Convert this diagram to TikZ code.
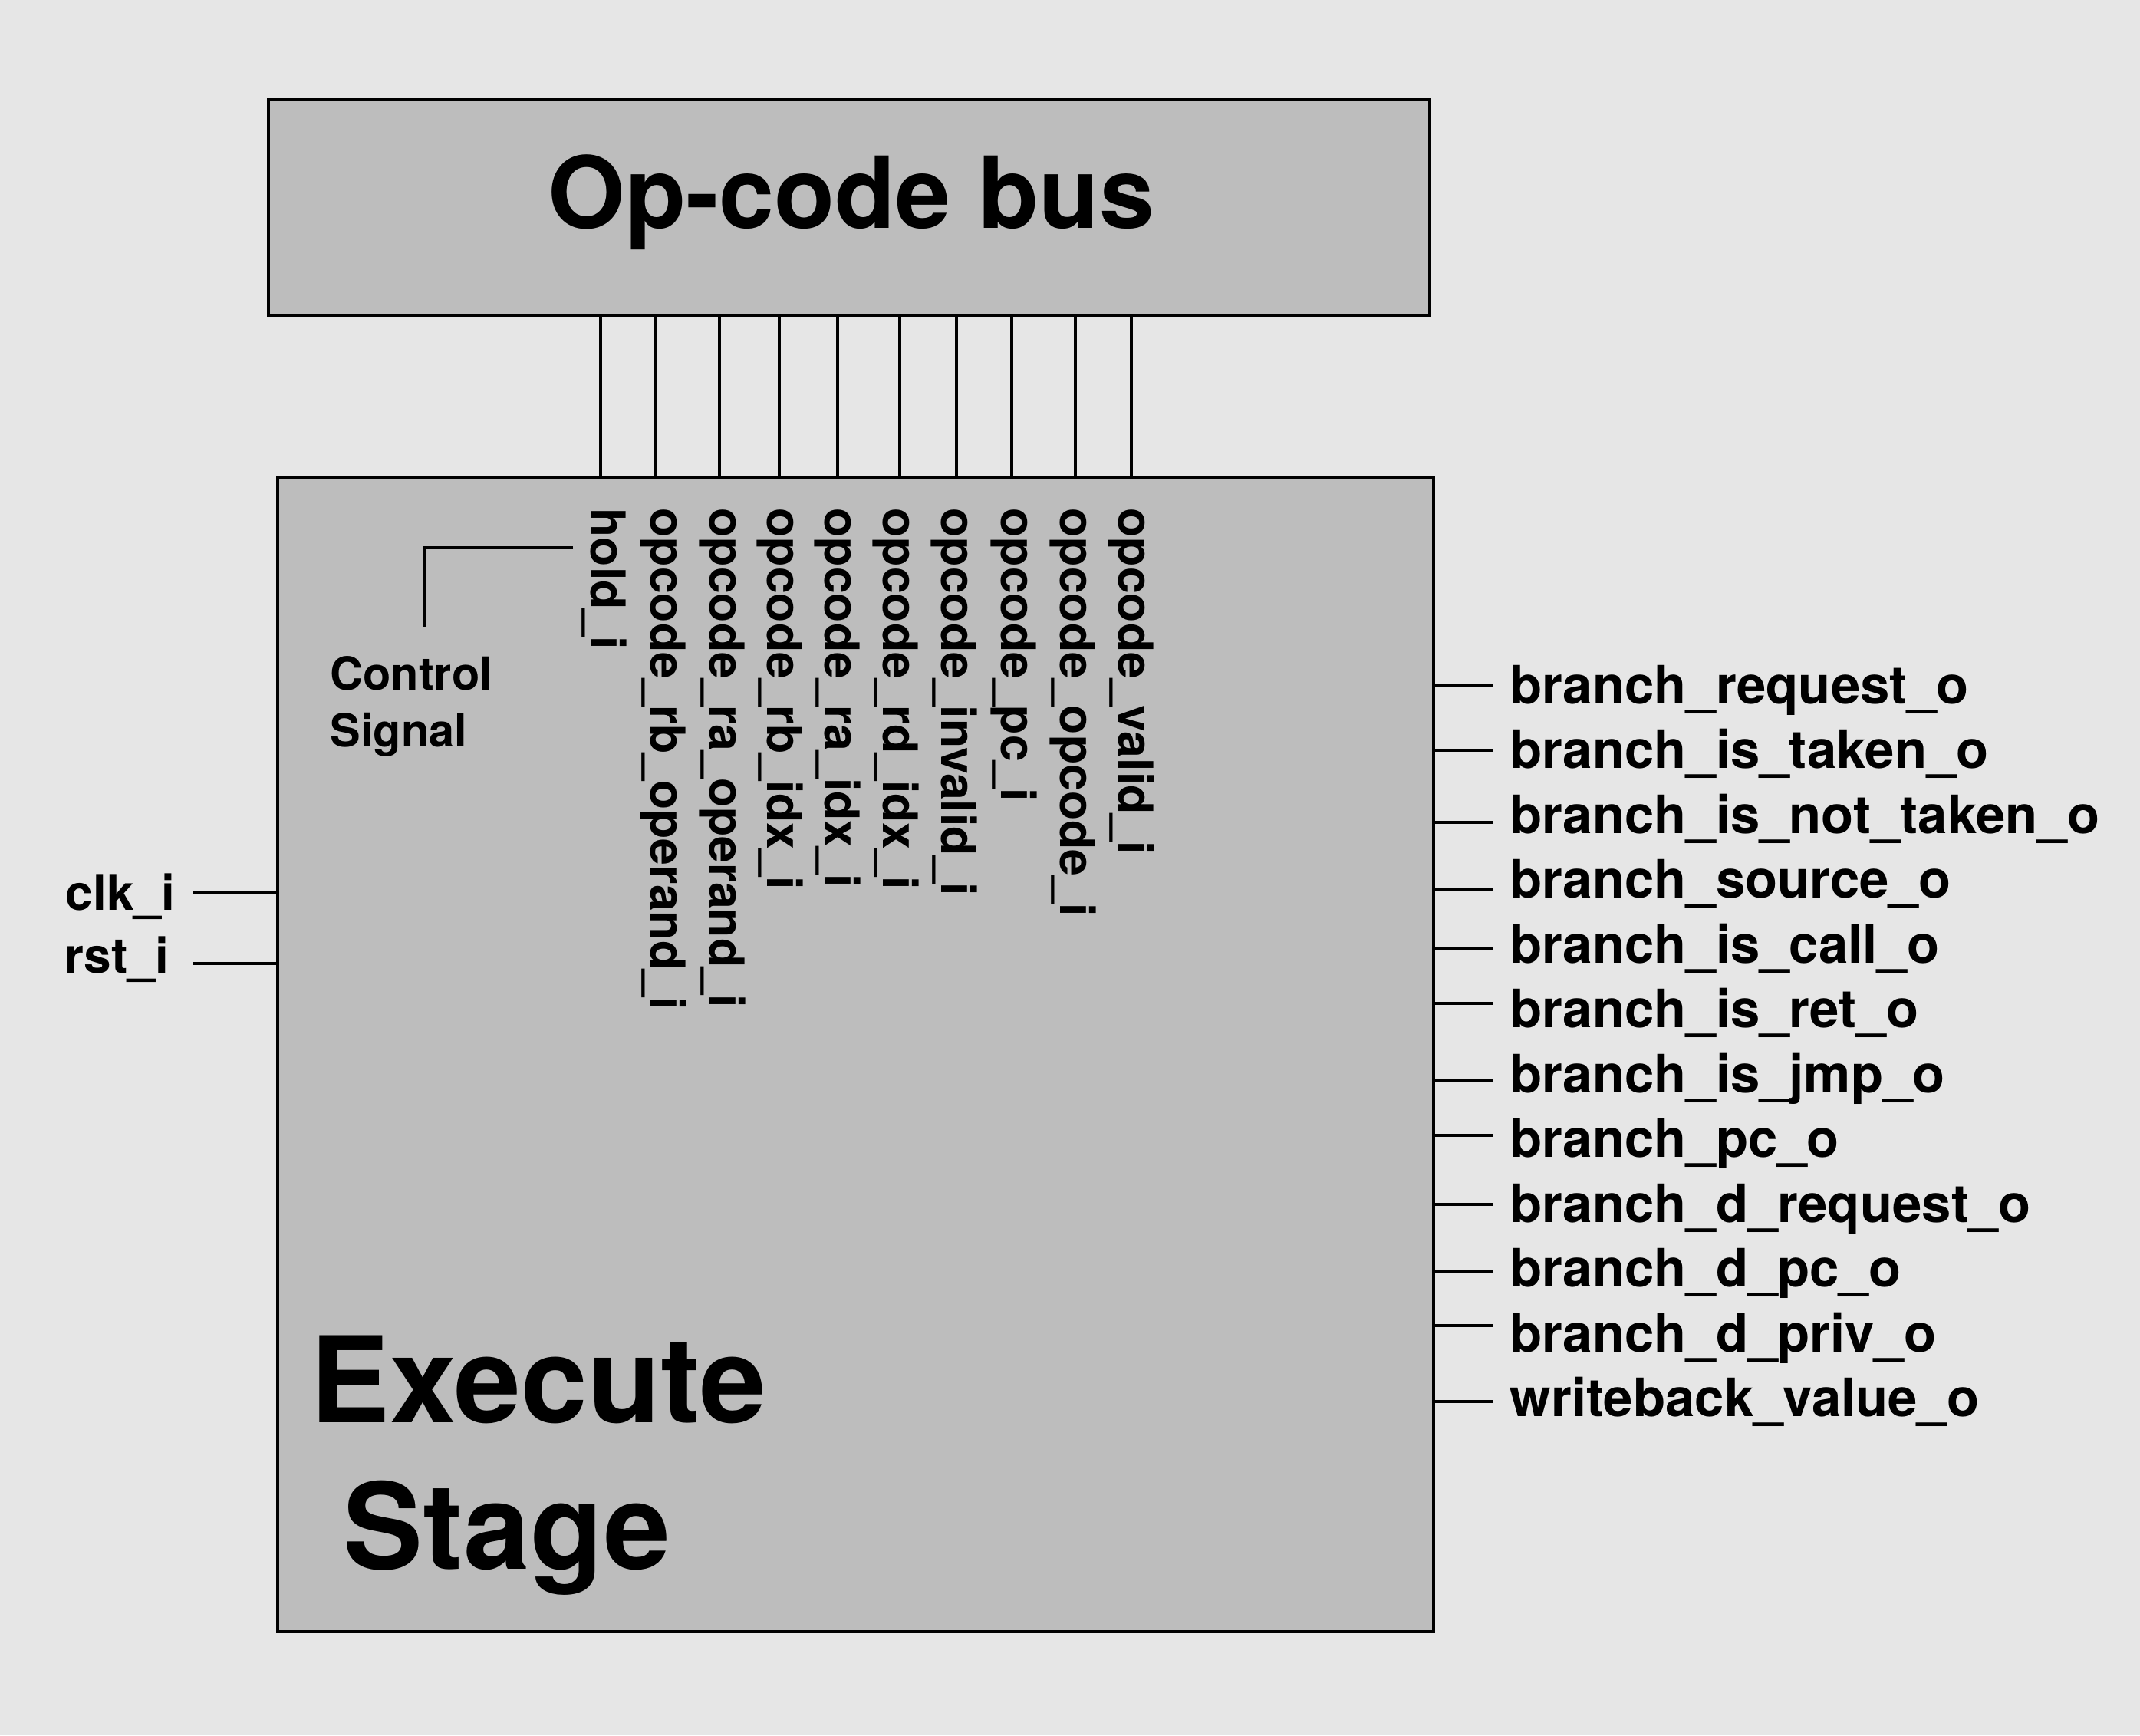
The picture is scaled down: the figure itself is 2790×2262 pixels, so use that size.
\documentclass[tikz,border=0pt]{standalone}
\usepackage{fontspec}
\setmainfont{TeX Gyre Heros}
\definecolor{pagegray}{HTML}{E6E6E6}
\definecolor{blockgray}{HTML}{BDBDBD}
\tikzset{
  block/.style={draw=black, line width=1.2pt, fill=blockgray, inner sep=0pt},
  wire/.style={draw=black, line width=1.1pt},
  portlbl/.style={inner sep=0pt, anchor=base west, font=\fontsize{19.6}{23}\selectfont\bfseries},
  inlbl/.style={inner sep=0pt, anchor=base west, font=\fontsize{18.2}{21}\selectfont\bfseries},
  buslbl/.style={inner sep=0pt, rotate=-90, anchor=base west, font=\fontsize{17.8}{21}\selectfont\bfseries},
}

\begin{document}
\begin{tikzpicture}[x=0.1mm,y=-0.1mm]
\useasboundingbox (0,0) rectangle (2790,2262);
\fill [pagegray] (0,0) rectangle (2790,2262);

% op-code bus
\node [block, minimum width=151.4mm, minimum height=28.1mm] (bus) at (1107,270.5) {};
\node [anchor=base, inner sep=0pt, font=\fontsize{36.8}{44}\selectfont\bfseries] (bustitle) at (1110,298) {Op-code bus};

% execute stage
\node [block, minimum width=150.7mm, minimum height=150.5mm] (exec) at (1115.5,1374.5) {};
\node [anchor=north west, inner sep=0pt, align=left, font=\fontsize{44.3}{54.5}\selectfont\bfseries] (title) at (404,1740) {Execute\\\ Stage};

% wires from the bus
\foreach \x in {783,854,938,1016,1092,1173,1247,1319,1402,1475}
  \draw [wire] (\x,0 |- bus.south) -- (\x,0 |- exec.north);

% bus signal names
\foreach \x/\n/\txt in {770/hold/hold\_i, 848/rbop/opcode\_rb\_operand\_i,
    925/raop/opcode\_ra\_operand\_i, 1000/rbidx/opcode\_rb\_idx\_i,
    1075/raidx/opcode\_ra\_idx\_i, 1151/rdidx/opcode\_rd\_idx\_i,
    1227/inval/opcode\_invalid\_i, 1305/pc/opcode\_pc\_i,
    1382/opc/opcode\_opcode\_i, 1458/valid/opcode\_valid\_i}
  \node [buslbl] (\n) at (\x,662) {\txt};

% control signal
\node [anchor=north west, inner sep=0pt, align=left, font=\fontsize{16.9}{20.9}\selectfont\bfseries] (ctl) at (430,855) {Control\\Signal};
\coordinate (holdtap) at (747,714);
\coordinate (ctltap) at (553,817);
\draw [wire] (holdtap) -| (ctltap);

% clock and reset
\node [inlbl] (clk) at (85,1186) {clk\_i};
\node [inlbl] (rst) at (84,1268) {rst\_i};
\coordinate (clktap) at (252,1164);
\coordinate (rsttap) at (252,1256);
\draw [wire] (clktap) -- (clktap -| exec.west);
\draw [wire] (rsttap) -- (rsttap -| exec.west);

% outputs
\foreach \k/\yw/\txt in {0/893/branch\_request\_o, 1/978/branch\_is\_taken\_o,
    2/1072/branch\_is\_not\_taken\_o, 3/1159/branch\_source\_o,
    4/1237/branch\_is\_call\_o, 5/1308/branch\_is\_ret\_o,
    6/1408/branch\_is\_jmp\_o, 7/1480/branch\_pc\_o,
    8/1570/branch\_d\_request\_o, 9/1658/branch\_d\_pc\_o,
    10/1728/branch\_d\_priv\_o, 11/1827/writeback\_value\_o}
{
  \node [portlbl] (out\k) at (1968,{917+84.5*\k}) {\txt};
  \draw [wire] (exec.east |- 0,\yw) -- ++(76,0);
}
\end{tikzpicture}
\end{document}
